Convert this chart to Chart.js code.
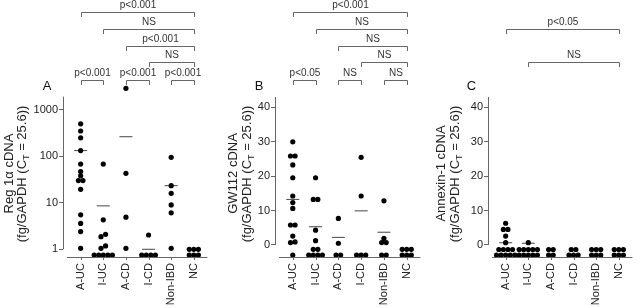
<!DOCTYPE html>
<html>
<head>
<meta charset="utf-8">
<script src="https://cdn.jsdelivr.net/npm/chart.js@4.4.1/dist/chart.umd.min.js"></script>
<style>
  html, body { margin: 0; padding: 0; background: #fff; }
  #wrap { position: relative; width: 640px; height: 308px; overflow: hidden; }
  .panel { position: absolute; top: 0; height: 308px; }
</style>
</head>
<body>
<div id="wrap">
  <div class="panel" style="left:0"><canvas id="chartA" width="215" height="308"></canvas></div>
  <div class="panel" style="left:215px"><canvas id="chartB" width="213" height="308"></canvas></div>
  <div class="panel" style="left:428px"><canvas id="chartC" width="212" height="308"></canvas></div>
</div>
<script>
const categories = ["A-UC", "I-UC", "A-CD", "I-CD", "Non-IBD", "NC"];

// panel A: Reg 1alpha (log axis), one list per category
const reg1aValues = [
  [500, 350, 250, 133, 68, 47, 38, 30, 30, 19.5, 5.5, 3.6, 2.4, 1.05],
  [68, 4.3, 2.1, 1.87, 1.18, 1.05, 0.75, 0.75, 0.75, 0.75, 0.75],
  [2900, 43, 4.9, 1.05],
  [2.03, 0.75, 0.75, 0.75, 0.75],
  [95, 23.4, 16, 9, 6.1, 1.05],
  [1.0, 1.0, 1.0, 0.75, 0.75, 0.75]
];
const reg1aMeans = [133, 8.6, 264, 1.0, 23.4, null];
const reg1aTicks = [1, 10, 100, 1000];

// panel B: GW112
const gw112Values = [
  [29.9, 25.8, 25.8, 23.2, 19.5, 14.2, 12.3, 10.6, 5.8, 5.8, 2.6, 0.7, 0.9, -2.9],
  [19.5, 13.2, 13.2, 4.3, 1.25, -1.25, -1.25, -2.9, -2.9, -2.9, -2.9],
  [7.7, 0.5, -2.9, -2.9],
  [25.4, 14.2, -2.9, -2.9, -2.9],
  [12.8, 1.9, 0.7, 0.7, -2.9, -2.9],
  [-1.25, -1.25, -1.25, -2.9, -2.9, -2.9]
];
const gw112Means = [13.2, 5.3, 2.2, 9.9, 3.7, null];

// panel C: Annexin-1
const annexinValues = [
  [6.3, 4.5, 4.5, 2.6, 0.67, -1.3, -1.3, -1.3, -1.3, -2.9, -2.9, -2.9, -2.9, -2.9],
  [0.67, -1.3, -1.3, -1.3, -1.3, -1.3, -2.9, -2.9, -2.9, -2.9, -2.9],
  [-1.3, -1.3, -2.9, -2.9],
  [-1.3, -1.3, -2.9, -2.9, -2.9],
  [-1.3, -1.3, -1.3, -2.9, -2.9, -2.9],
  [-1.3, -1.3, -1.3, -2.9, -2.9, -2.9]
];
const annexinMeans = [0.67, 0.5, null, null, null, null];
const linearTicks = [0, 10, 20, 30, 40];

// brackets: [from category, to category, label, level]
const reg1aBrackets = [
  [0, 5, "p<0.001", 0], [1, 5, "NS", 1], [2, 5, "p<0.001", 2], [3, 5, "NS", 3],
  [0, 1, "p<0.001", 4], [2, 3, "p<0.001", 4], [4, 5, "p<0.001", 4]
];
const gw112Brackets = [
  [0, 5, "p<0.001", 0], [1, 5, "NS", 1], [2, 5, "NS", 2], [3, 5, "NS", 3],
  [0, 1, "p<0.05", 4], [2, 3, "NS", 4], [4, 5, "NS", 4]
];
const annexinBrackets = [
  [0, 5, "p<0.05", 1], [1, 5, "NS", 3]
];

const FONT = "'Liberation Sans', Arial, Helvetica, sans-serif";
const TOP = 80, BOTTOM = 257, H = 308;
const X_MIN = -0.78, X_MAX = 5.6;
const LEVEL_Y = [12.3, 28.5, 45.5, 62.3, 79.5];
const DOT_R = 2.6, DOT_GAP = 4.8;

function swarm(groups, toPx, pxPerX) {
  const pts = [];
  groups.forEach((vals, ci) => {
    const sorted = vals.map(v => ({ v: v, p: toPx(v) })).sort((a, b) => a.p - b.p);
    const rows = [];
    sorted.forEach(o => {
      const last = rows[rows.length - 1];
      if (last && Math.abs(o.p - last[0].p) < 3) last.push(o);
      else rows.push([o]);
    });
    rows.forEach(row => {
      row.forEach((o, k) => {
        const off = (k - (row.length - 1) / 2) * DOT_GAP / pxPerX;
        pts.push({ x: ci + off, y: o.v });
      });
    });
  });
  return pts;
}

const decor = {
  id: "decor",
  afterDraw(chart, args, o) {
    const ctx = chart.ctx;
    const xs = chart.scales.x, ys = chart.scales.y;
    const area = chart.chartArea;
    ctx.save();

    // y axis line
    ctx.strokeStyle = "#666";
    ctx.lineWidth = 1;
    ctx.beginPath();
    ctx.moveTo(area.left + 0.5, ys.getPixelForValue(o.axisFrom));
    ctx.lineTo(area.left + 0.5, ys.getPixelForValue(o.axisTo));
    ctx.stroke();

    // x axis line + ticks
    ctx.beginPath();
    ctx.moveTo(area.left + 4, BOTTOM + 0.5);
    ctx.lineTo(area.right, BOTTOM + 0.5);
    categories.forEach((c, i) => {
      const px = Math.round(xs.getPixelForValue(i)) + 0.5;
      ctx.moveTo(px, BOTTOM);
      ctx.lineTo(px, BOTTOM + 3);
    });
    ctx.stroke();

    // x labels
    ctx.fillStyle = "#222";
    ctx.font = "11px " + FONT;
    ctx.textAlign = "right";
    ctx.textBaseline = "middle";
    categories.forEach((c, i) => {
      ctx.save();
      ctx.translate(xs.getPixelForValue(i), BOTTOM + 6);
      ctx.rotate(-Math.PI / 2);
      ctx.fillText(c, 0, 0);
      ctx.restore();
    });

    // brackets
    ctx.strokeStyle = "#666";
    ctx.font = "10px " + FONT;
    ctx.textAlign = "center";
    ctx.textBaseline = "alphabetic";
    ctx.fillStyle = "#333";
    o.brackets.forEach(b => {
      const x1 = Math.round(xs.getPixelForValue(b[0])) + 0.5;
      const x2 = Math.round(xs.getPixelForValue(b[1])) + 0.5;
      const y = Math.round(LEVEL_Y[b[3]]) + 0.5;
      ctx.beginPath();
      ctx.moveTo(x1, y + 4.5);
      ctx.lineTo(x1, y);
      ctx.lineTo(x2, y);
      ctx.lineTo(x2, y + 4.5);
      ctx.stroke();
      ctx.fillText(b[2], (x1 + x2) / 2, y - 4.5);
    });

    // panel letter
    ctx.fillStyle = "#111";
    ctx.font = "13px " + FONT;
    ctx.fillText(o.letter, o.letterX, 90);

    // y title, two rotated lines, second one with subscript T
    ctx.fillStyle = "#222";
    ctx.textAlign = "left";
    ctx.save();
    ctx.translate(o.titleX[0], 173.5);
    ctx.rotate(-Math.PI / 2);
    ctx.font = "13px " + FONT;
    const w1 = ctx.measureText(o.title).width;
    ctx.fillText(o.title, -w1 / 2, 0);
    ctx.restore();

    const partA = "(fg/GAPDH (C", partB = "T", partC = " = 25.6))";
    ctx.save();
    ctx.translate(o.titleX[1], 174);
    ctx.rotate(-Math.PI / 2);
    ctx.font = "13px " + FONT;
    const wa = ctx.measureText(partA).width, wc = ctx.measureText(partC).width;
    ctx.font = "9px " + FONT;
    const wb = ctx.measureText(partB).width;
    let x0 = -(wa + wb + wc) / 2;
    ctx.font = "13px " + FONT;
    ctx.fillText(partA, x0, 0);
    ctx.font = "9px " + FONT;
    ctx.fillText(partB, x0 + wa, 3);
    ctx.font = "13px " + FONT;
    ctx.fillText(partC, x0 + wa + wb, 0);
    ctx.restore();

    ctx.restore();
  }
};

function makePanel(id, canvasW, yWidth, cfg) {
  const plotW = canvasW - yWidth;
  const pxPerX = plotW / (X_MAX - X_MIN);
  const plotH = BOTTOM - TOP;
  let toPx;
  if (cfg.log) {
    const perDecade = plotH / (Math.log10(cfg.max) - Math.log10(cfg.min));
    toPx = v => Math.log10(v) * perDecade;
  } else {
    const perUnit = plotH / (cfg.max - cfg.min);
    toPx = v => v * perUnit;
  }
  const dots = swarm(cfg.values, toPx, pxPerX);
  const means = cfg.means.map((m, i) => m == null ? null : { x: i, y: m }).filter(Boolean);

  return new Chart(document.getElementById(id), {
    type: "scatter",
    data: {
      datasets: [
        {
          data: dots,
          pointRadius: DOT_R,
          pointHoverRadius: DOT_R,
          backgroundColor: "#000",
          borderWidth: 0,
          clip: false
        },
        {
          data: means,
          pointStyle: "line",
          pointRadius: 6.5,
          pointHoverRadius: 6.5,
          borderColor: "#555",
          borderWidth: 1.1,
          clip: false
        }
      ]
    },
    options: {
      responsive: false,
      animation: false,
      events: [],
      layout: { padding: { top: TOP, bottom: H - BOTTOM, left: 0, right: 0 } },
      plugins: {
        legend: { display: false },
        tooltip: { enabled: false },
        decor: cfg.decor
      },
      scales: {
        x: {
          type: "linear",
          display: false,
          min: X_MIN,
          max: X_MAX
        },
        y: {
          type: cfg.log ? "logarithmic" : "linear",
          min: cfg.min,
          max: cfg.max,
          afterBuildTicks: s => { s.ticks = cfg.ticks.map(v => ({ value: v })); },
          afterFit: s => { s.width = yWidth; },
          border: { display: false },
          grid: { drawOnChartArea: false, drawTicks: true, tickLength: 4, color: "#666" },
          ticks: {
            padding: 1,
            color: "#222",
            font: { family: FONT, size: 11 },
            callback: v => String(v)
          }
        }
      }
    },
    plugins: [decor]
  });
}

makePanel("chartA", 215, 63, {
  log: true, min: 0.683, max: 4375, ticks: reg1aTicks,
  values: reg1aValues, means: reg1aMeans,
  decor: { axisFrom: 1, axisTo: 1915, brackets: reg1aBrackets, letter: "A", letterX: 47,
           title: "Reg 1\u03b1 cDNA", titleX: [12.5, 25.5] }
});
makePanel("chartB", 213, 60, {
  log: false, min: -3.48, max: 47.83, ticks: linearTicks,
  values: gw112Values, means: gw112Means,
  decor: { axisFrom: 0, axisTo: 42.9, brackets: gw112Brackets, letter: "B", letterX: 44,
           title: "GW112 cDNA", titleX: [22, 35.5] }
});
makePanel("chartC", 212, 60, {
  log: false, min: -3.48, max: 47.83, ticks: linearTicks,
  values: annexinValues, means: annexinMeans,
  decor: { axisFrom: 0, axisTo: 42.9, brackets: annexinBrackets, letter: "C", letterX: 43.5,
           title: "Annexin-1 cDNA", titleX: [17, 30.5] }
});
</script>
</body>
</html>
